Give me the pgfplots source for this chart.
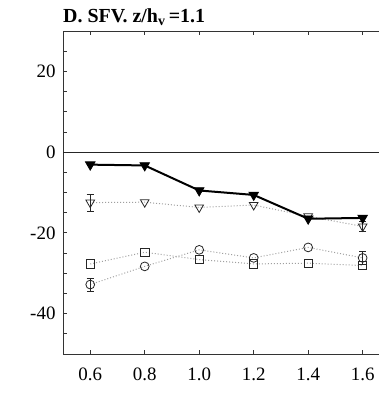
\documentclass[border=0pt]{standalone}
\usepackage{pgfplots}
\pgfplotsset{compat=1.18}
\usepackage{fontspec}
\setmainfont{Liberation Serif}

\begin{document}
\begin{tikzpicture}
\path[use as bounding box] (-63bp,-39bp) rectangle (316bp,354bp);
\begin{axis}[
  scale only axis,
  width=316bp, height=323bp,
  xmin=0.5, xmax=1.66,
  ymin=-50, ymax=30,
  axis y line*=left,
  axis x line=box,
  axis line style={line width=0.9bp, black!80},
  xtick={0.6,0.8,1.0,1.2,1.4,1.6},
  xticklabels={0.6,0.8,1.0,1.2,1.4,1.6},
  ytick={-50,-45,...,30},
  yticklabel={\ifnum\ticknum=2 -40\else\ifnum\ticknum=6 -20\else\ifnum\ticknum=10 0\else\ifnum\ticknum=14 20\fi\fi\fi\fi},
  tick align=inside,
  major tick length=4bp,
  tick style={line width=0.8bp, black!80},
  /pgf/number format/assume math mode=true,
  ticklabel style={font=\fontsize{19}{20}\selectfont},
  yticklabel style={xshift=-4bp},
  xticklabel style={yshift=-10bp},
  clip=false,
  every axis plot/.append style={forget plot},
]
  % zero reference line
  \addplot[black!85, line width=0.8bp] coordinates {(0.5,0) (1.66,0)};

  % squares
  \addplot[gray!75, dotted, line width=1bp,
    mark=square, mark size=4.2bp, mark options={solid, black!85, line width=0.8bp, fill=white}]
    coordinates {(0.6,-27.7) (0.8,-24.8) (1.0,-26.6) (1.2,-27.7) (1.4,-27.5) (1.6,-28.1)};

  % circles
  \addplot[gray!75, dotted, line width=1bp,
    mark=o, mark size=4.4bp, mark options={solid, black!85, line width=0.8bp, fill=white}]
    coordinates {(0.6,-32.8) (0.8,-28.3) (1.0,-24.2) (1.2,-26.2) (1.4,-23.6) (1.6,-26.2)};

  % open triangles
  \addplot[gray!75, dotted, line width=1bp,
    mark=triangle, mark size=5bp, mark options={solid, rotate=180, black!85, line width=0.8bp, fill=white}]
    coordinates {(0.6,-12.5) (0.8,-12.4) (1.0,-13.7) (1.2,-13.1) (1.4,-15.9) (1.6,-18.4)};

  % filled triangles
  \addplot[black, line width=2bp,
    mark=triangle*, mark size=5.5bp, mark options={rotate=180, line width=0.8bp, fill=black}]
    coordinates {(0.6,-3.1) (0.8,-3.3) (1.0,-9.5) (1.2,-10.6) (1.4,-16.5) (1.6,-16.3)};

  % error bars
  \pgfplotsset{ebar/.style={black!85, line width=0.8bp, mark=none,
    error bars/.cd, y dir=both, y explicit,
    error mark options={rotate=90, mark size=3.5bp, line width=0.8bp, black!85},
    error bar style={line width=0.8bp, black!85}}}
  \addplot[ebar] coordinates {(0.6,-12.5) +- (0,2.1)};
  \addplot[ebar] coordinates {(1.6,-18.4) +- (0,1.2)};
  \addplot[ebar] coordinates {(0.6,-32.8) +- (0,1.6)};
  \addplot[ebar] coordinates {(1.6,-26.2) +- (0,1.6)};

  \node[anchor=south west, inner sep=0pt, yshift=5bp, font=\fontsize{20}{22}\selectfont\bfseries]
    at (rel axis cs:0,1) {D. SFV. z/h\textsubscript{v}\,=1.1};
\end{axis}
\end{tikzpicture}
\end{document}
